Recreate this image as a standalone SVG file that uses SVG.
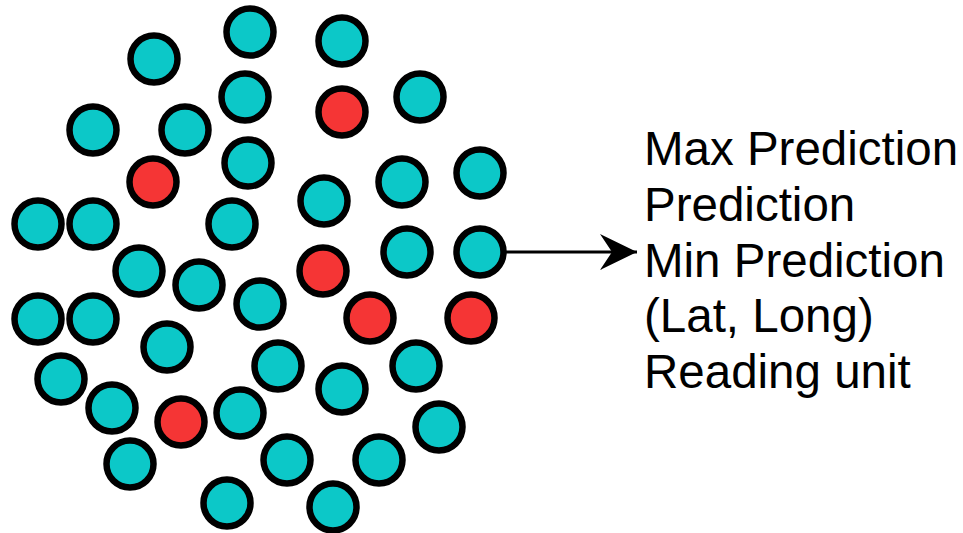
<svg xmlns="http://www.w3.org/2000/svg" width="963" height="533" viewBox="0 0 963 533">
<style>
.n{stroke:#000;stroke-width:6.5}
.c{fill:#0cc8c8}
.r{fill:#f53535}
.t{font-family:"Liberation Sans",Arial,sans-serif;font-size:47.5px;fill:#000}
</style>
<defs>
<marker id="ah" markerUnits="userSpaceOnUse" markerWidth="40" markerHeight="40" refX="37" refY="18" orient="auto">
<path d="M0,0 L37,18 L0,36 L12,18 Z" fill="#000"/>
</marker>
</defs>
<rect width="963" height="533" fill="#fff"/>
<g id="nodes">
<g id="c1"><circle class="n c" cx="250" cy="32" r="23.5"/></g>
<g id="c2"><circle class="n c" cx="342" cy="41" r="23.5"/></g>
<g id="c3"><circle class="n c" cx="154" cy="59" r="23.5"/></g>
<g id="c4"><circle class="n c" cx="245" cy="97" r="23.5"/></g>
<g id="c5"><circle class="n c" cx="420" cy="97" r="23.5"/></g>
<g id="c6"><circle class="n c" cx="93" cy="130" r="23.5"/></g>
<g id="c7"><circle class="n c" cx="185" cy="130" r="23.5"/></g>
<g id="c8"><circle class="n c" cx="248" cy="163" r="23.5"/></g>
<g id="c9"><circle class="n c" cx="402" cy="182" r="23.5"/></g>
<g id="c10"><circle class="n c" cx="480" cy="173" r="23.5"/></g>
<g id="c11"><circle class="n c" cx="38" cy="224" r="23.5"/></g>
<g id="c12"><circle class="n c" cx="93" cy="224" r="23.5"/></g>
<g id="c13"><circle class="n c" cx="232" cy="224" r="23.5"/></g>
<g id="c14"><circle class="n c" cx="324" cy="201" r="23.5"/></g>
<g id="c15"><circle class="n c" cx="407" cy="252" r="23.5"/></g>
<g id="c16"><circle class="n c" cx="480" cy="252" r="23.5"/></g>
<g id="c17"><circle class="n c" cx="139" cy="271" r="23.5"/></g>
<g id="c18"><circle class="n c" cx="199" cy="285" r="23.5"/></g>
<g id="c19"><circle class="n c" cx="260" cy="304" r="23.5"/></g>
<g id="c20"><circle class="n c" cx="38" cy="319" r="23.5"/></g>
<g id="c21"><circle class="n c" cx="93" cy="319" r="23.5"/></g>
<g id="c22"><circle class="n c" cx="167" cy="347" r="23.5"/></g>
<g id="c23"><circle class="n c" cx="278" cy="366" r="23.5"/></g>
<g id="c24"><circle class="n c" cx="416" cy="366" r="23.5"/></g>
<g id="c25"><circle class="n c" cx="61" cy="379" r="23.5"/></g>
<g id="c26"><circle class="n c" cx="342" cy="389" r="23.5"/></g>
<g id="c27"><circle class="n c" cx="112" cy="408" r="23.5"/></g>
<g id="c28"><circle class="n c" cx="240" cy="413" r="23.5"/></g>
<g id="c29"><circle class="n c" cx="439" cy="427" r="23.5"/></g>
<g id="c30"><circle class="n c" cx="130" cy="464" r="23.5"/></g>
<g id="c31"><circle class="n c" cx="287" cy="460" r="23.5"/></g>
<g id="c32"><circle class="n c" cx="379" cy="460" r="23.5"/></g>
<g id="c33"><circle class="n c" cx="227" cy="503" r="23.5"/></g>
<g id="c34"><circle class="n c" cx="333" cy="507" r="23.5"/></g>
<g id="r1"><circle class="n r" cx="342" cy="112" r="23.5"/></g>
<g id="r2"><circle class="n r" cx="153" cy="182" r="23.5"/></g>
<g id="r3"><circle class="n r" cx="323" cy="271" r="23.5"/></g>
<g id="r4"><circle class="n r" cx="370" cy="318" r="23.5"/></g>
<g id="r5"><circle class="n r" cx="471" cy="318" r="23.5"/></g>
<g id="r6"><circle class="n r" cx="181" cy="422" r="23.5"/></g>
</g>
<g id="connectors">
<line x1="505" y1="252" x2="637" y2="252" stroke="#000" stroke-width="3.2" marker-end="url(#ah)"/>
</g>
<g id="label">
<text class="t" x="644" y="165">Max Prediction</text>
<text class="t" x="644" y="221">Prediction</text>
<text class="t" x="644" y="277">Min Prediction</text>
<text class="t" x="644" y="332">(Lat, Long)</text>
<text class="t" x="644" y="388">Reading unit</text>
</g>
</svg>
